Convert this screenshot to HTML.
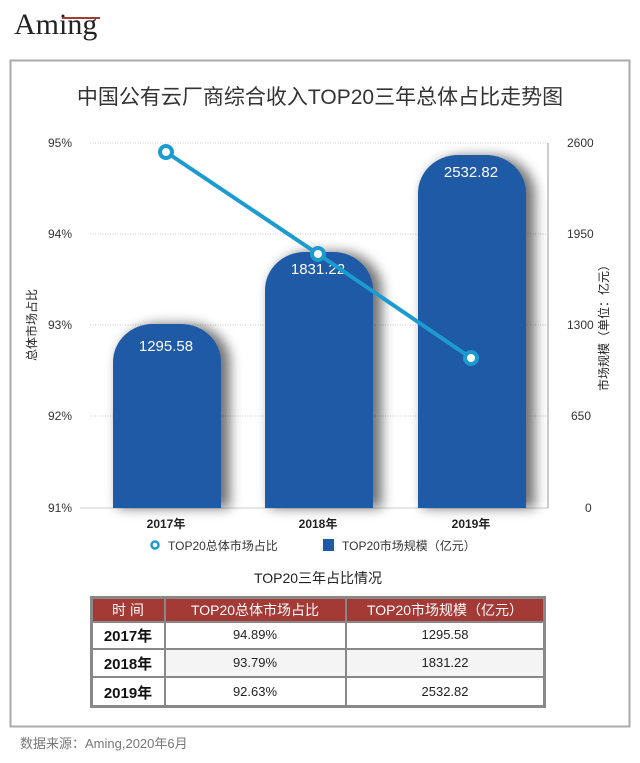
<!DOCTYPE html>
<html><head><meta charset="utf-8"><style>
body{margin:0;background:#fff;font-family:"Liberation Sans","Noto Sans CJK SC",sans-serif;}
</style></head><body>
<svg width="640" height="763" xmlns="http://www.w3.org/2000/svg" style="display:block">
<defs>
<filter id="sh" x="-30%" y="-30%" width="160%" height="160%"><feGaussianBlur stdDeviation="6"/></filter>
</defs>
<text x="14" y="34" font-family="Liberation Serif,serif" font-size="30" fill="#222">Aming</text>
<line x1="62" y1="18" x2="100" y2="18" stroke="#a33a35" stroke-width="2"/>
<rect x="10.5" y="60.5" width="619" height="666" fill="#fff" stroke="#aaa" stroke-width="2"/>
<text x="320" y="104" text-anchor="middle" font-size="21" fill="#333" font-family="Liberation Sans,'Noto Sans CJK SC',sans-serif">中国公有云厂商综合收入TOP20三年总体占比走势图</text>
<g stroke="#ccc" stroke-dasharray="1,1.5">
<line x1="90" y1="143" x2="548" y2="143"/><line x1="90" y1="234" x2="548" y2="234"/>
<line x1="90" y1="325" x2="548" y2="325"/><line x1="90" y1="416" x2="548" y2="416"/>
</g>
<line x1="80" y1="508" x2="548" y2="508" stroke="#ccc"/>
<line x1="548" y1="143" x2="548" y2="508" stroke="#999"/>
<g font-size="12" fill="#333">
<text x="72" y="147" text-anchor="end">95%</text><text x="72" y="238" text-anchor="end">94%</text>
<text x="72" y="329" text-anchor="end">93%</text><text x="72" y="420" text-anchor="end">92%</text>
<text x="72" y="512" text-anchor="end">91%</text>
<text x="567" y="147">2600</text><text x="567" y="238">1950</text><text x="567" y="329">1300</text>
<text x="571" y="420">650</text><text x="585" y="512">0</text>
</g>
<text transform="translate(36,325) rotate(-90)" text-anchor="middle" font-size="12" fill="#222">总体市场占比</text>
<text transform="translate(608,325) rotate(-90)" text-anchor="middle" font-size="12" fill="#222">市场规模（单位：亿元）</text>
<g filter="url(#sh)" fill="#000" opacity="0.55">
<path d="M118,508 V362 a42,38 0 0 1 42,-38 h28 a42,38 0 0 1 42,38 V508Z"/>
<path d="M270,508 V290 a42,38 0 0 1 42,-38 h28 a42,38 0 0 1 42,38 V508Z"/>
<path d="M423,508 V194 a42,38 0 0 1 42,-38 h28 a42,38 0 0 1 42,38 V508Z"/>
</g>
<g fill="#1f5aa6">
<path d="M113,508 V362 a40,38 0 0 1 40,-38 h28 a40,38 0 0 1 40,38 V508Z"/>
<path d="M265,508 V290 a40,38 0 0 1 40,-38 h28 a40,38 0 0 1 40,38 V508Z"/>
<path d="M418,508 V193 a40,38 0 0 1 40,-38 h28 a40,38 0 0 1 40,38 V508Z"/>
</g>
<g font-size="15" fill="#fff" text-anchor="middle">
<text x="166" y="351">1295.58</text><text x="318" y="274">1831.22</text><text x="471" y="177">2532.82</text>
</g>
<polyline points="166,152 318,254 471,358" fill="none" stroke="#1b9bd0" stroke-width="4"/>
<g fill="#fff" stroke="#1b9bd0" stroke-width="4">
<circle cx="166" cy="152" r="6"/><circle cx="318" cy="254" r="6"/><circle cx="471" cy="358" r="6"/>
</g>
<g font-size="12" fill="#222" font-weight="bold" text-anchor="middle">
<text x="166" y="528">2017年</text><text x="318" y="528">2018年</text><text x="471" y="528">2019年</text>
</g>
<circle cx="155" cy="545" r="3.5" fill="none" stroke="#1b9bd0" stroke-width="2.5"/>
<text x="168" y="550" font-size="12" fill="#333">TOP20总体市场占比</text>
<rect x="323" y="539" width="11" height="12" fill="#1f5aa6"/>
<text x="342" y="550" font-size="12" fill="#333">TOP20市场规模（亿元）</text>
<text x="318" y="583" text-anchor="middle" font-size="14" fill="#222">TOP20三年占比情况</text>
<rect x="90" y="596" width="456" height="112" fill="#888"/>
<rect x="93" y="599" width="71" height="22" fill="#a33a35"/>
<rect x="166" y="599" width="179" height="22" fill="#a33a35"/>
<rect x="347" y="599" width="196" height="22" fill="#a33a35"/>
<g fill="#fff">
<rect x="93" y="623" width="71" height="25"/><rect x="166" y="623" width="179" height="25"/><rect x="347" y="623" width="196" height="25"/>
<rect x="93" y="650" width="71" height="26"/><rect x="166" y="650" width="179" height="26" fill="#f4f4f4"/><rect x="347" y="650" width="196" height="26" fill="#f4f4f4"/>
<rect x="93" y="678" width="71" height="27"/><rect x="166" y="678" width="179" height="27"/><rect x="347" y="678" width="196" height="27"/>
</g>
<g font-size="14" fill="#fff" text-anchor="middle">
<text x="128" y="615">时 间</text><text x="255" y="615">TOP20总体市场占比</text><text x="445" y="615">TOP20市场规模（亿元）</text>
</g>
<g font-size="15" font-weight="bold" fill="#111" text-anchor="middle">
<text x="128" y="641">2017年</text><text x="128" y="669">2018年</text><text x="128" y="698">2019年</text>
</g>
<g font-size="13" fill="#222" text-anchor="middle">
<text x="255" y="639">94.89%</text><text x="445" y="639">1295.58</text>
<text x="255" y="667">93.79%</text><text x="445" y="667">1831.22</text>
<text x="255" y="696">92.63%</text><text x="445" y="696">2532.82</text>
</g>
<text x="20" y="748" font-size="13" fill="#777">数据来源：Aming,2020年6月</text>
</svg>
</body></html>
